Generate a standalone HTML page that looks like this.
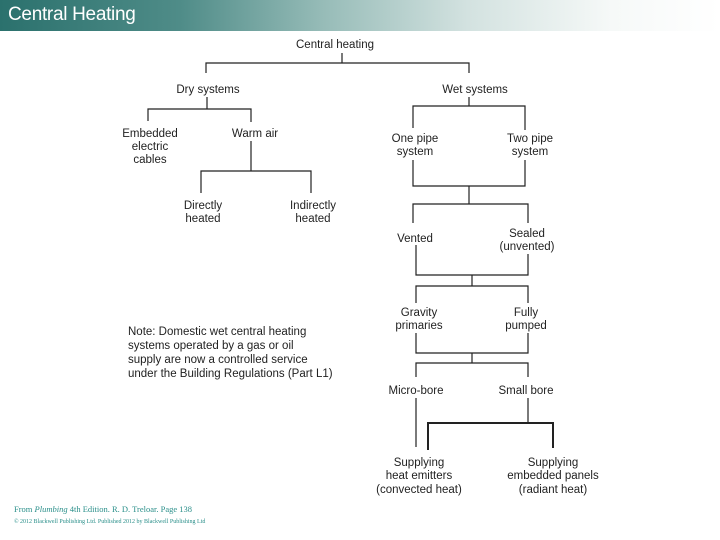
<!DOCTYPE html>
<html><head><meta charset="utf-8"><style>
html,body{margin:0;padding:0;background:#fff;width:720px;height:540px;overflow:hidden}
.hdr{position:absolute;left:0;top:0;width:720px;height:31px;background:linear-gradient(to right,#2b716d 0%,#4f8c88 25%,#97bcb8 45%,#d3e2e0 65%,#f6f9f8 85%,#fff 100%)}
.hdr span{position:absolute;left:8px;top:4px;font:19px "Liberation Sans",sans-serif;color:#fff;letter-spacing:-0.3px}
svg{position:absolute;left:0;top:0}
text{font-family:"Liberation Sans",sans-serif;font-size:11.5px;fill:#222}
</style></head><body>
<div class="hdr"><span>Central Heating</span></div>
<svg width="720" height="540" viewBox="0 0 720 540">
<g stroke="#222" stroke-width="1.2" fill="none">
<path d="M342 53V63M206 73V63H469V73"/>
<path d="M207 97V109M148 121V109H251V122"/>
<path d="M251 141V171M201 193V171H311V193"/>
<path d="M469 97V106M413 128V106H525V130"/>
<path d="M413 160V186H525V160M469 186V204M413 223V204H528V223"/>
<path d="M416 245V275H528V254M472 275V286M416 303V286H528V303"/>
<path d="M416 333V353H528V333M472 353V363M416 377V363H528V377"/>
<path d="M416 398V447M528 398V423"/>
<path d="M428 450V423H553V448" stroke-width="2"/>
</g>
<g text-anchor="middle">
<text x="335" y="48">Central heating</text>
<text x="208" y="93">Dry systems</text>
<text x="475" y="93">Wet systems</text>
<text x="150" y="137">Embedded</text><text x="150" y="150">electric</text><text x="150" y="163">cables</text>
<text x="255" y="137">Warm air</text>
<text x="203" y="209">Directly</text><text x="203" y="222">heated</text>
<text x="313" y="209">Indirectly</text><text x="313" y="222">heated</text>
<text x="415" y="142">One pipe</text><text x="415" y="155">system</text>
<text x="530" y="142">Two pipe</text><text x="530" y="155">system</text>
<text x="415" y="242">Vented</text>
<text x="527" y="237">Sealed</text><text x="527" y="250">(unvented)</text>
<text x="419" y="316">Gravity</text><text x="419" y="329">primaries</text>
<text x="526" y="316">Fully</text><text x="526" y="329">pumped</text>
<text x="416" y="394">Micro-bore</text>
<text x="526" y="394">Small bore</text>
<text x="419" y="466">Supplying</text><text x="419" y="479">heat emitters</text><text x="419" y="493">(convected heat)</text>
<text x="553" y="466">Supplying</text><text x="553" y="479">embedded panels</text><text x="553" y="493">(radiant heat)</text>
</g>
<g>
<text x="128" y="335">Note: Domestic wet central heating</text>
<text x="128" y="349">systems operated by a gas or oil</text>
<text x="128" y="363">supply are now a controlled service</text>
<text x="128" y="377">under the Building Regulations (Part L1)</text>
</g>
<text x="14" y="512" style="font-family:'Liberation Serif',serif;font-size:8.5px;fill:#2a8f8a">From <tspan font-style="italic">Plumbing</tspan> 4th Edition. R. D. Treloar. Page 138</text>
<text x="14" y="523" style="font-family:'Liberation Serif',serif;font-size:6px;fill:#2a8f8a">© 2012 Blackwell Publishing Ltd. Published 2012 by Blackwell Publishing Ltd</text>
</svg>
</body></html>
